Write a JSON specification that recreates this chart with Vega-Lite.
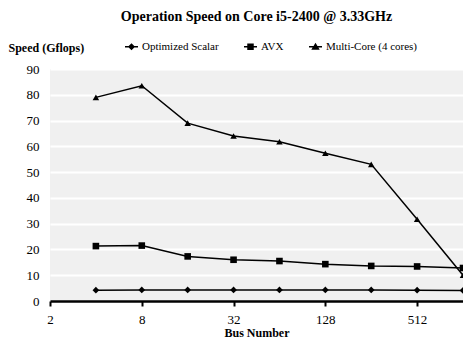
{
  "$schema": "https://vega.github.io/schema/vega-lite/v6.json",
  "autosize": "none",
  "width": 413,
  "height": 232,
  "padding": {"left": 50, "top": 69, "right": 0, "bottom": 44},
  "background": "white",
  "config": {
    "font": "Liberation Serif",
    "view": {"fill": "#f0f0f0", "stroke": null}
  },
  "title": {
    "text": "Operation Speed on Core i5-2400 @ 3.33GHz",
    "font": "Liberation Serif",
    "fontSize": 14,
    "fontWeight": "bold",
    "color": "black",
    "anchor": "middle",
    "frame": "group",
    "offset": 16
  },
  "data": {
    "values": [
      {"series": "Optimized Scalar", "bus": 4, "speed": 4.2},
      {"series": "Optimized Scalar", "bus": 8, "speed": 4.3},
      {"series": "Optimized Scalar", "bus": 16, "speed": 4.3},
      {"series": "Optimized Scalar", "bus": 32, "speed": 4.3},
      {"series": "Optimized Scalar", "bus": 64, "speed": 4.3},
      {"series": "Optimized Scalar", "bus": 128, "speed": 4.3},
      {"series": "Optimized Scalar", "bus": 256, "speed": 4.3},
      {"series": "Optimized Scalar", "bus": 512, "speed": 4.2},
      {"series": "Optimized Scalar", "bus": 1024, "speed": 4.1},
      {"series": "AVX", "bus": 4, "speed": 21.3},
      {"series": "AVX", "bus": 8, "speed": 21.5},
      {"series": "AVX", "bus": 16, "speed": 17.3},
      {"series": "AVX", "bus": 32, "speed": 16.0},
      {"series": "AVX", "bus": 64, "speed": 15.5},
      {"series": "AVX", "bus": 128, "speed": 14.3},
      {"series": "AVX", "bus": 256, "speed": 13.6},
      {"series": "AVX", "bus": 512, "speed": 13.4},
      {"series": "AVX", "bus": 1024, "speed": 12.8},
      {"series": "Multi-Core (4 cores)", "bus": 4, "speed": 79.0},
      {"series": "Multi-Core (4 cores)", "bus": 8, "speed": 83.5},
      {"series": "Multi-Core (4 cores)", "bus": 16, "speed": 69.0},
      {"series": "Multi-Core (4 cores)", "bus": 32, "speed": 64.0},
      {"series": "Multi-Core (4 cores)", "bus": 64, "speed": 61.8},
      {"series": "Multi-Core (4 cores)", "bus": 128, "speed": 57.3},
      {"series": "Multi-Core (4 cores)", "bus": 256, "speed": 53.0},
      {"series": "Multi-Core (4 cores)", "bus": 512, "speed": 31.7},
      {"series": "Multi-Core (4 cores)", "bus": 1024, "speed": 10.0}
    ]
  },
  "encoding": {
    "x": {
      "field": "bus",
      "type": "quantitative",
      "scale": {"type": "log", "base": 2, "domain": [2, 1024], "nice": false},
      "axis": {
        "title": "Bus Number",
        "titleFont": "Liberation Serif",
        "titleFontSize": 12,
        "titleFontWeight": "bold",
        "titleColor": "black",
        "titlePadding": 1,
        "values": [2, 8, 32, 128, 512],
        "labelFont": "Liberation Serif",
        "labelFontSize": 13,
        "labelColor": "black",
        "labelPadding": 7,
        "labelFlush": false,
        "grid": false,
        "domainColor": "black",
        "domainWidth": 2.5,
        "tickColor": "black",
        "tickWidth": 2,
        "tickSize": 5
      }
    },
    "y": {
      "field": "speed",
      "type": "quantitative",
      "scale": {"domain": [0, 90], "nice": false},
      "axis": {
        "title": "Speed (Gflops)",
        "titleFont": "Liberation Serif",
        "titleFontSize": 12,
        "titleFontWeight": "bold",
        "titleColor": "black",
        "titleAngle": 0,
        "titleAlign": "left",
        "titleBaseline": "alphabetic",
        "titleX": -42,
        "titleY": -18,
        "values": [0, 10, 20, 30, 40, 50, 60, 70, 80, 90],
        "labelFont": "Liberation Serif",
        "labelFontSize": 13,
        "labelColor": "black",
        "labelPadding": 11,
        "ticks": false,
        "domain": false,
        "grid": true,
        "gridColor": "white",
        "gridWidth": 2,
        "gridOpacity": 1
      }
    }
  },
  "layer": [
    {
      "mark": {"type": "line", "color": "black", "strokeWidth": 1.5, "clip": false},
      "encoding": {"detail": {"field": "series"}}
    },
    {
      "mark": {"type": "point", "filled": true, "color": "black", "opacity": 1, "clip": false},
      "encoding": {
        "shape": {
          "field": "series",
          "type": "nominal",
          "scale": {
            "domain": ["Optimized Scalar", "AVX", "Multi-Core (4 cores)"],
            "range": ["diamond", "square", "triangle-up"]
          },
          "legend": null
        },
        "size": {
          "field": "series",
          "type": "nominal",
          "scale": {
            "domain": ["Optimized Scalar", "AVX", "Multi-Core (4 cores)"],
            "range": [45, 42, 60]
          },
          "legend": null
        }
      }
    },
    {
      "mark": {"type": "point", "filled": true, "color": "black", "opacity": 0, "size": 169},
      "encoding": {
        "shape": {
          "field": "series",
          "type": "nominal",
          "scale": {
            "domain": ["Optimized Scalar", "AVX", "Multi-Core (4 cores)"],
            "range": [
              "M-1,-0.1L1,-0.1L1,0.1L-1,0.1Z M0,-0.55L0.55,0L0,0.55L-0.55,0Z",
              "M-1,-0.1L1,-0.1L1,0.1L-1,0.1Z M-0.5,-0.5L0.5,-0.5L0.5,0.5L-0.5,0.5Z",
              "M-1,-0.1L1,-0.1L1,0.1L-1,0.1Z M0,-0.6L0.65,0.45L-0.65,0.45Z"
            ]
          },
          "legend": {
            "title": null,
            "orient": "none",
            "legendX": 75,
            "legendY": -29,
            "direction": "horizontal",
            "columns": 3,
            "columnPadding": 25,
            "symbolSize": 169,
            "symbolOpacity": 1,
            "symbolFillColor": "black",
            "symbolStrokeColor": "black",
            "symbolStrokeWidth": 0,
            "labelFont": "Liberation Serif",
            "labelFontSize": 11,
            "labelColor": "black",
            "labelOffset": 4,
            "encode": {
              "symbols": {
                "update": {
                  "fill": {"value": "black"},
                  "opacity": {"value": 1},
                  "fillOpacity": {"value": 1}
                }
              }
            }
          }
        }
      }
    }
  ],
  "resolve": {"scale": {"shape": "independent", "size": "independent"}}
}
